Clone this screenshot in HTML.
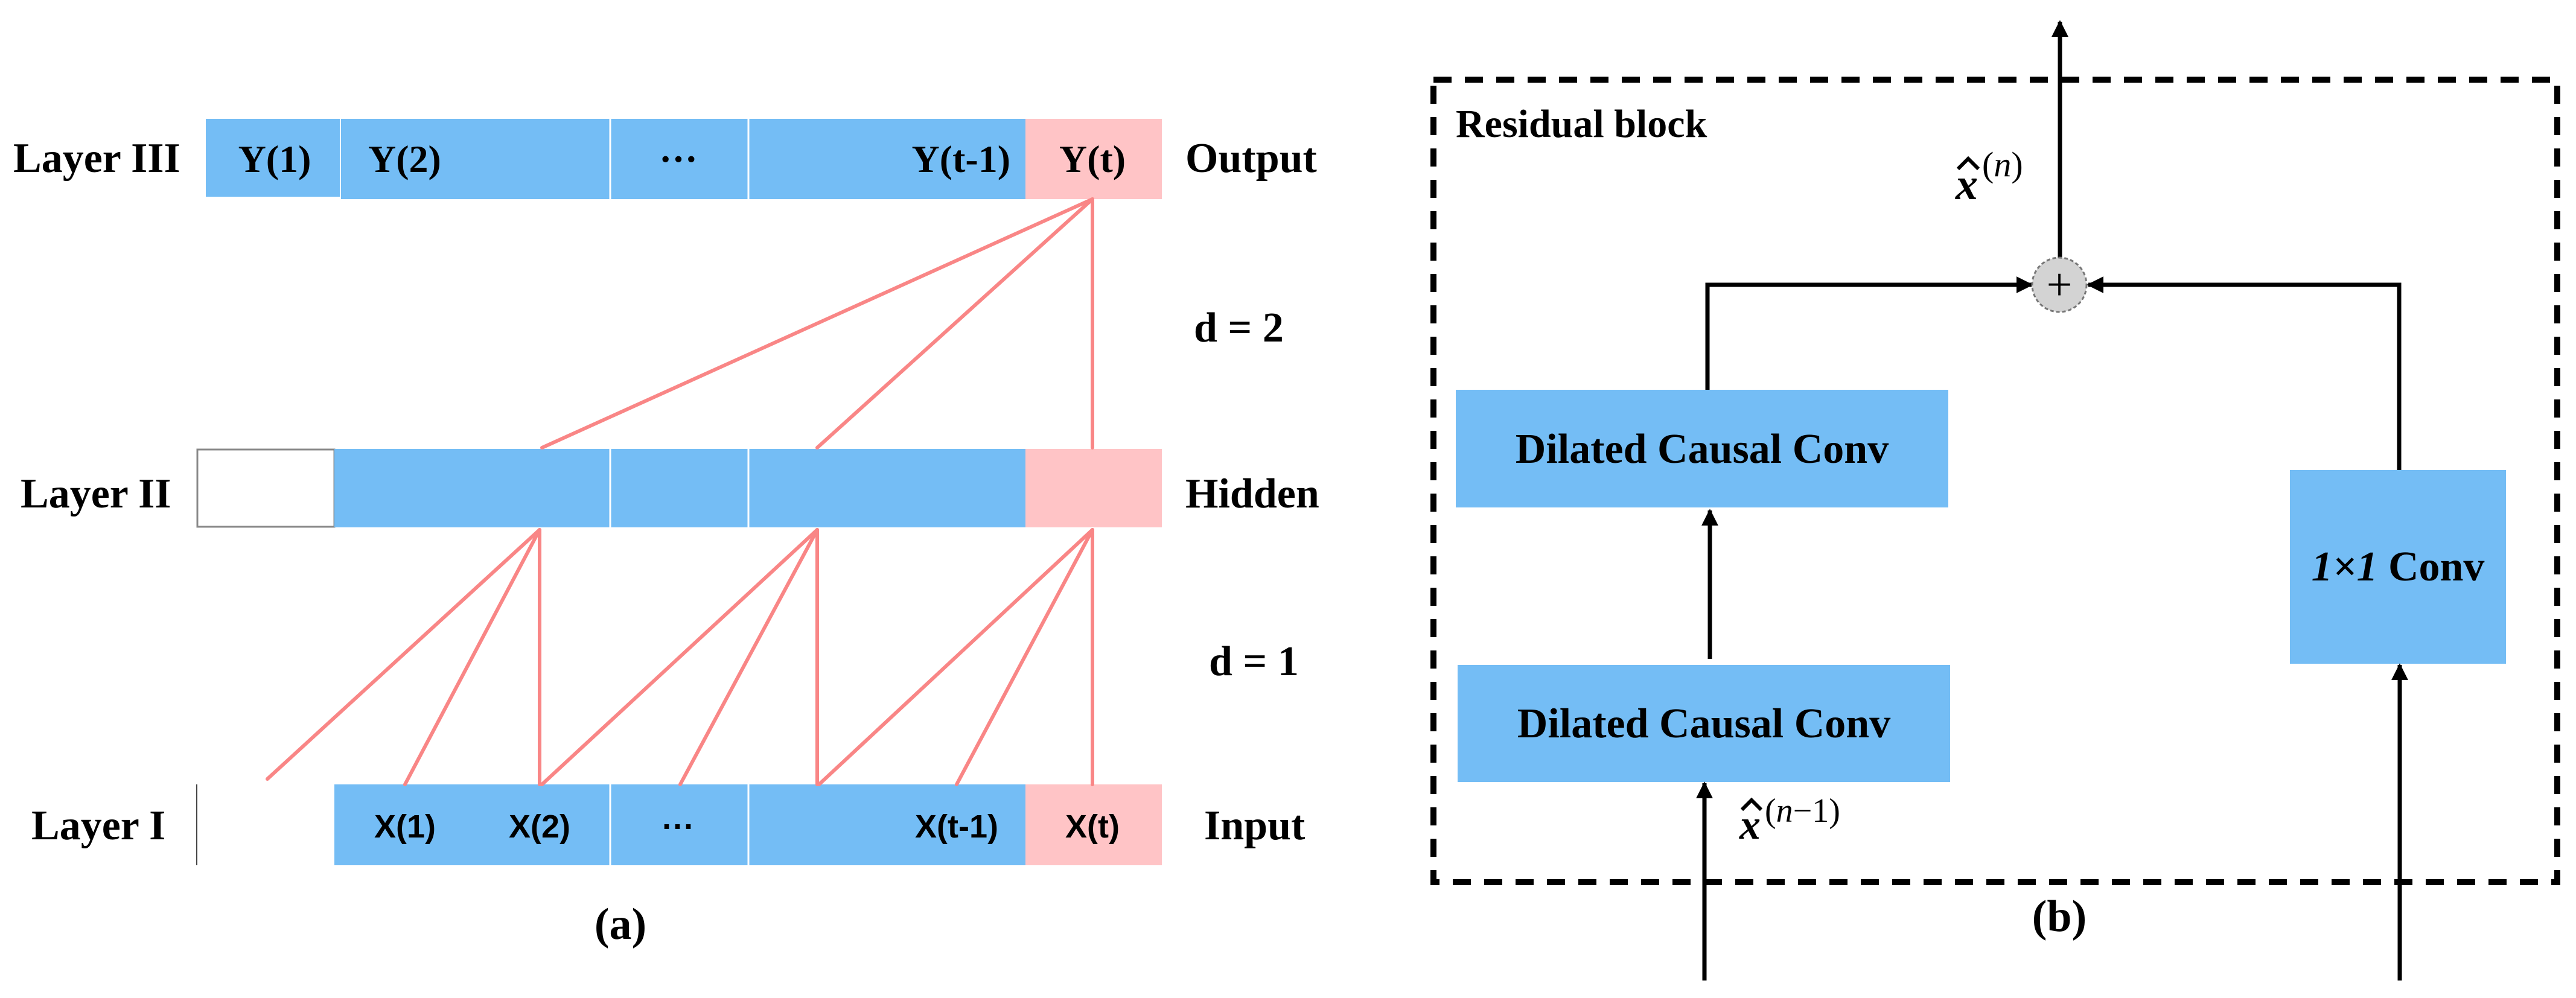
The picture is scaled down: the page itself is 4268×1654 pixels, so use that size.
<!DOCTYPE html>
<html><head><meta charset="utf-8"><style>html,body{margin:0;padding:0;background:#fff}svg{display:block}</style></head>
<body>
<svg width="4268" height="1654" viewBox="0 0 4268 1654" xmlns="http://www.w3.org/2000/svg">
<defs>
<marker id="ah" viewBox="0 0 10 10" refX="9" refY="5" markerWidth="4" markerHeight="4" orient="auto" markerUnits="strokeWidth">
<path d="M0,0 L10,5 L0,10 z" fill="#000"/>
</marker>
</defs>
<rect width="4268" height="1654" fill="#fff"/>
<g font-family="Liberation Serif, serif" font-weight="bold" fill="#000">
<!-- Layer III -->
<rect x="341" y="197" width="222" height="129" fill="#74BDF5"/>
<rect x="565" y="197" width="1134" height="133" fill="#74BDF5"/>
<rect x="1699" y="197" width="226" height="133" fill="#FFC4C6"/>
<line x1="1011" y1="197" x2="1011" y2="330" stroke="#fff" stroke-width="3"/>
<line x1="1240" y1="197" x2="1240" y2="330" stroke="#fff" stroke-width="3"/>
<text x="22" y="285" font-size="70">Layer III</text>
<text x="455" y="285" font-size="64" text-anchor="middle">Y(1)</text>
<text x="610" y="285" font-size="64">Y(2)</text>
<text x="1124" y="285" font-size="64" text-anchor="middle">···</text>
<text x="1674" y="285" font-size="64" text-anchor="end">Y(t-1)</text>
<text x="1810" y="285" font-size="64" text-anchor="middle">Y(t)</text>
<text x="1964" y="285" font-size="70">Output</text>
<text x="1978" y="566" font-size="70">d = 2</text>

<!-- Layer II -->
<rect x="327" y="745" width="227" height="128" fill="#fff" stroke="#888" stroke-width="3"/>
<rect x="554" y="744" width="1145" height="130" fill="#74BDF5"/>
<rect x="1699" y="744" width="226" height="130" fill="#FFC4C6"/>
<line x1="1011" y1="744" x2="1011" y2="874" stroke="#fff" stroke-width="3"/>
<line x1="1240" y1="744" x2="1240" y2="874" stroke="#fff" stroke-width="3"/>
<text x="34" y="841" font-size="70">Layer II</text>
<text x="1964" y="841" font-size="70">Hidden</text>
<text x="2003" y="1119" font-size="70">d = 1</text>

<!-- Layer I -->
<line x1="326" y1="1300" x2="326" y2="1434" stroke="#444" stroke-width="2"/>
<rect x="554" y="1300" width="1145" height="134" fill="#74BDF5"/>
<rect x="1699" y="1300" width="226" height="134" fill="#FFC4C6"/>
<line x1="1011" y1="1300" x2="1011" y2="1434" stroke="#fff" stroke-width="3"/>
<line x1="1240" y1="1300" x2="1240" y2="1434" stroke="#fff" stroke-width="3"/>
<text x="52" y="1391" font-size="70">Layer I</text>
<g font-family="Liberation Sans, sans-serif" font-size="54">
<text x="671" y="1388" text-anchor="middle">X(1)</text>
<text x="894" y="1388" text-anchor="middle">X(2)</text>
<text x="1124" y="1388" text-anchor="middle">···</text>
<text x="1585" y="1388" text-anchor="middle">X(t-1)</text>
<text x="1810" y="1388" text-anchor="middle">X(t)</text>
</g>
<text x="1995" y="1391" font-size="70">Input</text>
<text x="1028" y="1556" font-size="74" text-anchor="middle">(a)</text>

<!-- red connections -->
<g stroke="#F98686" stroke-width="6" fill="none" stroke-linecap="round">
<line x1="1810" y1="330" x2="898" y2="742"/>
<line x1="1810" y1="330" x2="1354" y2="742"/>
<line x1="1810" y1="330" x2="1810" y2="742"/>
<line x1="894" y1="878" x2="443" y2="1291"/>
<line x1="894" y1="878" x2="671" y2="1300"/>
<line x1="894" y1="878" x2="894" y2="1300"/>
<line x1="1354" y1="878" x2="898" y2="1300"/>
<line x1="1354" y1="878" x2="1127" y2="1300"/>
<line x1="1354" y1="878" x2="1354" y2="1300"/>
<line x1="1810" y1="878" x2="1357" y2="1300"/>
<line x1="1810" y1="878" x2="1585" y2="1300"/>
<line x1="1810" y1="878" x2="1810" y2="1300"/>
</g>

<!-- Panel b -->
<rect x="2375" y="132" width="1862" height="1330" fill="none" stroke="#000" stroke-width="10" stroke-dasharray="30 22"/>
<text x="2412" y="227" font-size="66">Residual block</text>

<rect x="2412" y="646" width="816" height="195" fill="#74BDF5"/>
<text x="2820" y="767" font-size="70" text-anchor="middle">Dilated Causal Conv</text>
<rect x="2415" y="1102" width="816" height="194" fill="#74BDF5"/>
<text x="2823" y="1222" font-size="70" text-anchor="middle">Dilated Causal Conv</text>
<rect x="3794" y="779" width="358" height="321" fill="#74BDF5"/>
<text x="3973" y="962" font-size="70" text-anchor="middle"><tspan font-style="italic">1×1</tspan> Conv</text>

<g stroke="#000" stroke-width="7" fill="none">
<line x1="3413" y1="427" x2="3413" y2="36" marker-end="url(#ah)"/>
<polyline points="2829,646 2829,472 3366,472" marker-end="url(#ah)"/>
<polyline points="3975,779 3975,472 3460,472" marker-end="url(#ah)"/>
<line x1="2833" y1="1092" x2="2833" y2="846" marker-end="url(#ah)"/>
<line x1="2824" y1="1625" x2="2824" y2="1298" marker-end="url(#ah)"/>
<line x1="3976" y1="1625" x2="3976" y2="1102" marker-end="url(#ah)"/>
</g>
<circle cx="3412" cy="472" r="45" fill="#D3D3D3" stroke="#777" stroke-width="3" stroke-dasharray="6 4"/>
<text x="3412" y="497" font-size="76" font-weight="normal" text-anchor="middle">+</text>

<!-- x-hat labels -->
<text x="3240" y="330" font-size="74" font-style="italic">x</text>
<path d="M3244,280 L3261,263 L3278,280" stroke="#000" stroke-width="6" fill="none"/>
<text x="3284" y="292" font-size="58" font-weight="normal">(<tspan font-style="italic">n</tspan>)</text>
<text x="2882" y="1390" font-size="70" font-style="italic">x</text>
<path d="M2886,1342 L2902,1326 L2918,1342" stroke="#000" stroke-width="6" fill="none"/>
<text x="2924" y="1362" font-size="56" font-weight="normal">(<tspan font-style="italic">n</tspan>−1)</text>

<text x="3412" y="1543" font-size="74" text-anchor="middle">(b)</text>
</g>
</svg>
</body></html>
